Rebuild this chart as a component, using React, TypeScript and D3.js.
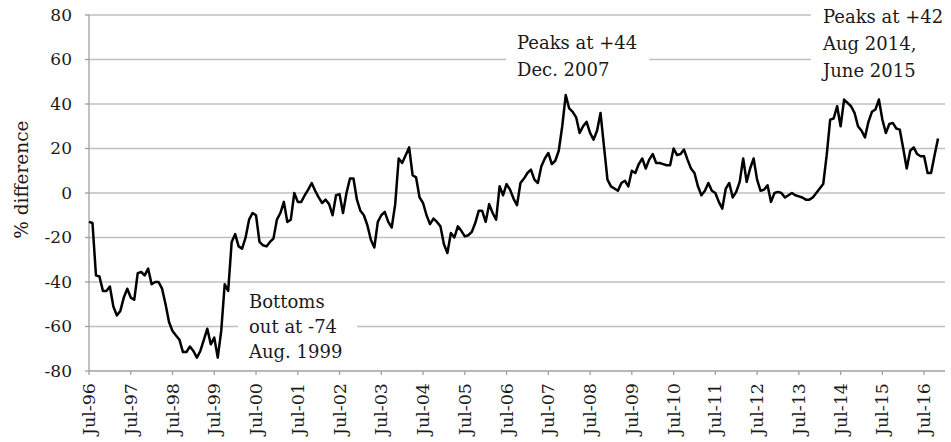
import React from "react";
import * as d3 from "d3";

// Monthly % difference, starting Jul-1996
const values: number[] = [
  -13, -13.5, -37, -37.5, -44, -44, -42, -51, -55, -53, -47, -43,
  -47, -48, -36, -35.5, -37, -34, -41, -40, -40, -43, -50, -58,
  -62, -64, -66, -71.5, -71.5, -69, -71, -74, -71, -66, -61, -68,
  -65, -74, -62, -41, -44, -22, -18.5, -24, -25, -20, -12, -9,
  -10, -22, -23.5, -24, -22, -20.5, -12, -9, -4, -13, -12, 0,
  -4, -4, -1, 1.5, 4.5, 1, -2, -4.5, -3, -5, -10, -1,
  -0.5, -9, 0, 6.5, 6.5, -3, -8, -10, -14.5, -21, -24.5, -13,
  -10, -8.5, -13, -15.5, -5, 15.5, 13.5, 17, 20.5, 8, 7, -2,
  -4.5, -10, -14, -11.5, -13, -15, -23, -27, -18, -20, -15, -17,
  -19.5, -19, -17.5, -13.5, -8, -8, -13, -5, -9, -12, 3, -1,
  4, 1.5, -2.5, -5.5, 4.5, 6.5, 9, 10.5, 6, 4.5, 12, 15.5,
  18, 13, 14.5, 19, 30, 44, 38, 36.5, 34, 27, 30, 32,
  27, 24, 28, 36, 21, 6, 3, 2, 1, 4.5, 5.5, 3,
  10, 9, 13, 15.5, 11, 15, 17.5, 13.5, 13.5, 13, 12.5, 12.5,
  20, 17, 17.5, 19.5, 15, 11, 9, 3, -1, 1, 4.5, 1,
  0, -4, -7, 2, 4.5, -2, 0.5, 5, 15.5, 5, 11, 15.5,
  6, 1, 1.5, 3.5, -4, 0, 0.5, 0, -2, -1, 0, -1,
  -1.5, -2, -3, -3, -2, 0, 2, 4, 17, 33, 33.5, 39,
  30, 42, 40.5, 39, 36, 30, 28, 25, 32, 36.5, 37.5, 42,
  33, 27, 31, 31.5, 29, 28.5, 20, 11, 19, 20.5, 17.5, 16.5,
  16.5, 9, 9, 17, 24.5,
];

const xTickLabels: string[] = [
  "Jul-96", "Jul-97", "Jul-98", "Jul-99", "Jul-00", "Jul-01", "Jul-02",
  "Jul-03", "Jul-04", "Jul-05", "Jul-06", "Jul-07", "Jul-08", "Jul-09",
  "Jul-10", "Jul-11", "Jul-12", "Jul-13", "Jul-14", "Jul-15", "Jul-16",
];

const yTicks: number[] = [80, 60, 40, 20, 0, -20, -40, -60, -80];

const yTitle = "% difference";
const noteBottom: string[] = ["Bottoms", "out at -74", "Aug. 1999"];
const notePeak2007: string[] = ["Peaks at +44", "Dec. 2007"];
const notePeak2015: string[] = ["Peaks at +42", "Aug 2014,", "June 2015"];

const W = 951;
const H = 442;
const FONT = "'Palatino Linotype', 'Book Antiqua', Palatino, 'DejaVu Serif', serif";

export default function App() {
  const x = d3.scaleLinear().domain([0, 246]).range([89, 945]);
  const y = d3.scaleLinear().domain([-80, 80]).range([371, 15]);
  const line = d3
    .line<number>()
    .x((_, i) => x(i))
    .y((d) => y(d))
    .curve(d3.curveLinear);

  const gridColor = "#c0c0c0";
  const axisColor = "#a0a0a0";
  const textColor = "#1a1a1a";

  return (
    <svg
      width={W}
      height={H}
      style={{ position: "absolute", left: 0, top: 0, background: "#fff" }}
      fontFamily={FONT}
    >
      <rect x={0} y={0} width={W} height={H} fill="#fff" />
      {/* gridlines */}
      {yTicks.map((t) => (
        <g key={t}>
          <line x1={x(0)} x2={x(246)} y1={y(t)} y2={y(t)} stroke={t === -80 ? axisColor : gridColor} strokeWidth={1.3} />
          <line x1={x(0) - 4} x2={x(0)} y1={y(t)} y2={y(t)} stroke={axisColor} strokeWidth={1.3} />
          <text x={72} y={y(t)} dy="0.35em" textAnchor="end" fontSize={17} fill={textColor}>
            {t}
          </text>
        </g>
      ))}
      {/* y axis line */}
      <line x1={x(0)} x2={x(0)} y1={y(80)} y2={y(-80)} stroke={axisColor} strokeWidth={1.3} />
      {/* x ticks */}
      {xTickLabels.map((lab, k) => {
        const xx = x(k * 12);
        return (
          <g key={lab}>
            <line x1={xx} x2={xx} y1={y(-80)} y2={y(-80) + 4} stroke={axisColor} strokeWidth={1.3} />
            <text
              transform={`translate(${xx},${y(-80) + 12}) rotate(-90)`}
              textAnchor="end"
              dy="0.35em"
              fontSize={17.5}
              fill={textColor}
            >
              {lab}
            </text>
          </g>
        );
      })}
      {/* y title */}
      <text
        transform={`translate(22,${y(6)}) rotate(-90)`}
        textAnchor="middle"
        dy="0.35em"
        fontSize={18.5}
        fill={textColor}
      >
        {yTitle}
      </text>

      {/* annotation boxes */}
      <rect x={238} y={284} width={119} height={80} fill="#fff" />
      <rect x={506} y={24} width={143} height={68} fill="#fff" />
      <rect x={811} y={0} width={140} height={88} fill="#fff" />

      {/* series */}
      <path d={line(values) ?? ""} fill="none" stroke="#000" strokeWidth={2.5} strokeLinejoin="round" />

      {/* annotations */}
      {noteBottom.map((s, i) => (
        <text key={s} x={249} y={302 + i * 25} dy="0.35em" fontSize={18} fill={textColor}>
          {s}
        </text>
      ))}
      {notePeak2007.map((s, i) => (
        <text key={s} x={517} y={43 + i * 27} dy="0.35em" fontSize={18} fill={textColor}>
          {s}
        </text>
      ))}
      {notePeak2015.map((s, i) => (
        <text key={s} x={823} y={17 + i * 27} dy="0.35em" fontSize={18} fill={textColor}>
          {s}
        </text>
      ))}
    </svg>
  );
}
